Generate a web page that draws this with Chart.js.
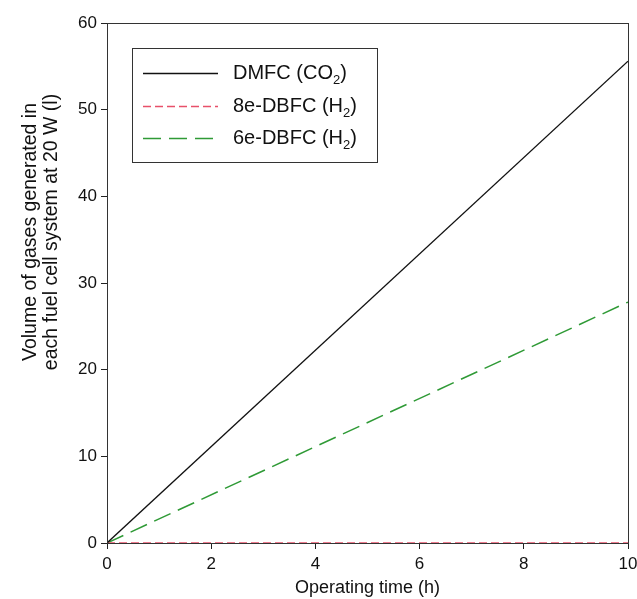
<!DOCTYPE html>
<html>
<head>
<meta charset="utf-8">
<script src="https://cdn.jsdelivr.net/npm/chart.js@4"></script>
<style>
  html, body { margin: 0; padding: 0; background: #fff; }
  #wrap { width: 637px; height: 599px; }
</style>
</head>
<body>
<div id="wrap"><canvas id="gasChart" width="637" height="599"></canvas></div>
<script>
// Data
const times = [0, 10];
const dmfc = [0, 55.6];
const dbfc8 = [0, 0];
const dbfc6 = [0, 27.8];
const xTicks = [0, 2, 4, 6, 8, 10];
const yTicks = [0, 10, 20, 30, 40, 50, 60];
const seriesNames = ['DMFC (CO\u2082)', '8e-DBFC (H\u2082)', '6e-DBFC (H\u2082)'];
const yTitle = ['Volume of gases generated in', 'each fuel cell system at 20 W (l)'];

const FONT = 'Arial, "Liberation Sans", sans-serif';

const pts = (ys) => times.map((t, i) => ({ x: t, y: ys[i] }));

// Frame around plot area, y title and boxed legend in the upper left
const framePlugin = {
    id: 'frameAndLegend',
    afterDraw(chart) {
        const { ctx, chartArea: a } = chart;
        ctx.save();
        ctx.strokeStyle = '#333';
        ctx.lineWidth = 1;
        ctx.strokeRect(a.left + 0.5, a.top + 0.5, a.right - a.left, a.bottom - a.top);

        // y axis title (sits a bit above the middle in the original)
        ctx.save();
        ctx.translate(0, 232);
        ctx.rotate(-Math.PI / 2);
        ctx.fillStyle = '#111';
        ctx.font = '19.5px ' + FONT;
        ctx.textAlign = 'center';
        ctx.textBaseline = 'middle';
        ctx.fillText(yTitle[0], 0, 31);
        ctx.fillText(yTitle[1], 0, 52);
        ctx.restore();

        // legend box
        const bx = 132, by = 48, bw = 245, bh = 114;
        ctx.fillStyle = '#fff';
        ctx.fillRect(bx, by, bw, bh);
        ctx.strokeStyle = '#333';
        ctx.lineWidth = 1;
        ctx.strokeRect(bx + 0.5, by + 0.5, bw, bh);
        const rows = [73, 106, 138];
        chart.data.datasets.forEach((ds, i) => {
            const y = rows[i];
            ctx.beginPath();
            ctx.setLineDash(ds.borderDash || []);
            ctx.strokeStyle = ds.borderColor;
            ctx.lineWidth = ds.borderWidth;
            ctx.moveTo(143, y + 0.5);
            ctx.lineTo(218, y + 0.5);
            ctx.stroke();
            ctx.setLineDash([]);
            // text with subscript 2
            const label = seriesNames[i];
            const base = label.replace('\u2082)', '');
            ctx.fillStyle = '#111';
            ctx.font = '20px ' + FONT;
            ctx.textBaseline = 'middle';
            ctx.textAlign = 'left';
            ctx.fillText(base, 233, y);
            let x = 233 + ctx.measureText(base).width;
            ctx.font = '13px ' + FONT;
            ctx.fillText('2', x, y + 7);
            x += ctx.measureText('2').width;
            ctx.font = '20px ' + FONT;
            ctx.fillText(')', x, y);
        });
        ctx.restore();
    }
};

new Chart(document.getElementById('gasChart'), {
    type: 'line',
    data: {
        datasets: [
            {
                label: seriesNames[0],
                data: pts(dmfc),
                borderColor: '#111',
                borderWidth: 1.3,
                pointRadius: 0
            },
            {
                label: seriesNames[1],
                data: pts(dbfc8),
                borderColor: '#e8506a',
                borderWidth: 1.5,
                borderDash: [8, 4],
                pointRadius: 0
            },
            {
                label: seriesNames[2],
                data: pts(dbfc6),
                borderColor: '#2f9a36',
                borderWidth: 1.5,
                borderDash: [18, 8],
                pointRadius: 0
            }
        ]
    },
    options: {
        responsive: false,
        animation: false,
        layout: { padding: { left: 0, right: 9, top: 23, bottom: 0 } },
        plugins: {
            legend: { display: false },
            tooltip: { enabled: false }
        },
        scales: {
            x: {
                type: 'linear',
                min: 0,
                max: 10,
                afterBuildTicks: (s) => { s.ticks = xTicks.map(v => ({ value: v })); },
                afterFit: (s) => { s.height = 56; s.paddingRight = 0; s.paddingLeft = 0; },
                grid: { drawOnChartArea: false, tickLength: 6, tickColor: '#222' },
                border: { display: true, color: '#333' },
                ticks: { color: '#111', font: { family: FONT, size: 17 }, padding: 5, maxRotation: 0 },
                title: {
                    display: true,
                    text: 'Operating time (h)',
                    color: '#111',
                    font: { family: FONT, size: 18 },
                    padding: { top: 0, bottom: 0 }
                }
            },
            y: {
                min: 0,
                max: 60,
                afterBuildTicks: (s) => { s.ticks = yTicks.map(v => ({ value: v })); },
                afterFit: (s) => { s.width = 107; s.paddingTop = 0; s.paddingBottom = 0; },
                grid: { drawOnChartArea: false, tickLength: 6, tickColor: '#222' },
                border: { display: true, color: '#333' },
                ticks: { color: '#111', font: { family: FONT, size: 17 }, padding: 4 },
                title: { display: false }
            }
        }
    },
    plugins: [framePlugin]
});
</script>
</body>
</html>
